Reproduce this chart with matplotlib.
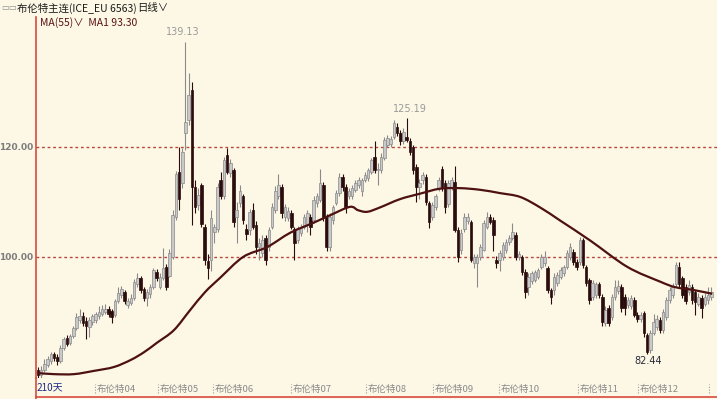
import matplotlib.pyplot as plt
import matplotlib.transforms as mtransforms
from matplotlib.lines import Line2D
from matplotlib.path import Path
from matplotlib.patches import PathPatch

plt.rcParams['font.family'] = ['Noto Sans CJK SC', 'DejaVu Sans']

# 日K线 (开, 收, 高, 低)
opens = [79.5, 78.5, 79.5, 80.3, 81.0, 82.3, 81.8, 81.0, 83.5, 85.2,
         84.3, 85.6, 87.0, 88.6, 89.3, 88.3, 87.3, 88.2, 88.5, 89.2,
         89.6, 90.0, 90.6, 90.2, 89.4, 92.0, 93.0, 93.6, 91.3, 91.6,
         92.5, 95.0, 96.2, 94.2, 92.6, 93.2, 94.6, 97.2, 94.6, 96.2,
         98.2, 96.6, 100.0, 107.2, 115.5, 113.5, 122.5, 124.9, 130.4, 112.7,
         109.5, 113.0, 105.5, 99.2, 99.5, 104.5, 105.0, 114.0, 111.0, 118.5,
         115.3, 115.8, 107.3, 109.8, 111.0, 105.0, 104.9, 108.5, 105.8, 101.8,
         100.7, 103.5, 101.8, 105.5, 108.5, 111.0, 112.7, 107.3, 107.0, 108.0,
         105.0, 103.0, 104.4, 105.5, 106.0, 107.3, 106.7, 109.8, 110.4, 113.0,
         107.3, 101.8, 106.7, 109.8, 111.6, 114.5, 112.7, 111.0, 111.0, 112.2,
         113.0, 112.0, 114.0, 114.3, 115.5, 118.2, 115.8, 115.8, 118.0, 120.4,
         120.6, 121.8, 123.6, 122.5, 121.0, 121.8, 121.0, 120.0, 116.4, 112.7,
         114.0, 114.5, 109.8, 107.3, 109.0, 112.5, 116.0, 113.5, 109.6, 112.7,
         113.6, 104.9, 101.3, 105.0, 106.5, 106.4, 98.9, 98.9, 100.0, 101.3,
         105.5, 107.3, 106.7, 99.5, 99.5, 100.0, 101.3, 102.7, 103.5, 104.0,
         100.0, 100.0, 97.3, 94.5, 95.6, 95.8, 96.4, 98.2, 98.9, 98.0,
         94.0, 94.0, 95.3, 96.4, 97.0, 98.2, 100.0, 100.9, 99.1, 99.0,
         103.0, 98.2, 95.8, 92.7, 93.0, 95.0, 92.7, 88.0, 90.7, 89.0,
         92.7, 93.8, 94.5, 92.7, 91.3, 91.0, 92.2, 89.5, 88.8, 89.8,
         85.8, 83.0, 86.2, 87.3, 88.5, 86.7, 89.0, 92.2, 93.0, 95.0,
         98.2, 96.2, 94.5, 93.6, 94.5, 93.6, 91.5, 92.5, 91.5, 92.2,
         92.7]
closes = [78.5, 79.5, 80.5, 81.5, 82.3, 81.6, 81.0, 83.5, 85.0, 84.2,
          85.6, 87.0, 89.0, 89.2, 88.0, 87.5, 88.6, 89.2, 89.6, 90.0,
          90.6, 90.6, 89.6, 89.0, 92.0, 93.5, 94.2, 92.0, 92.0, 92.6,
          95.5, 96.2, 94.0, 92.6, 93.6, 94.6, 97.6, 96.2, 96.4, 98.0,
          94.6, 100.8, 107.6, 115.0, 110.5, 119.0, 124.5, 129.5, 112.7, 109.0,
          111.2, 106.0, 99.5, 98.0, 107.0, 105.5, 112.7, 111.0, 117.6, 115.5,
          117.0, 106.4, 108.5, 112.0, 106.8, 104.2, 108.2, 105.5, 101.8, 102.5,
          103.0, 99.5, 104.9, 109.0, 112.0, 113.0, 108.0, 109.0, 108.3, 105.5,
          102.5, 105.0, 105.5, 107.3, 108.0, 105.5, 110.4, 111.0, 113.5, 107.3,
          101.8, 107.3, 109.0, 111.6, 114.5, 112.7, 109.0, 112.0, 112.5, 113.5,
          114.0, 114.0, 114.8, 115.8, 117.6, 115.8, 116.0, 118.2, 121.3, 121.6,
          121.4, 124.4, 122.5, 121.0, 122.7, 121.3, 119.0, 115.8, 112.7, 113.5,
          114.8, 110.0, 106.4, 109.5, 111.0, 114.0, 112.7, 109.0, 113.5, 114.0,
          104.9, 100.0, 104.4, 107.3, 107.3, 99.5, 100.0, 100.0, 101.8, 106.2,
          107.3, 106.4, 104.0, 98.9, 100.7, 102.2, 102.7, 103.5, 104.5, 100.0,
          100.5, 97.3, 93.6, 96.4, 97.0, 97.2, 97.6, 100.0, 100.0, 94.0,
          92.7, 96.4, 96.7, 97.6, 98.2, 100.7, 101.8, 99.0, 98.2, 103.0,
          98.5, 95.3, 92.2, 95.3, 95.0, 93.0, 88.2, 90.4, 88.0, 92.7,
          94.5, 94.7, 90.7, 90.7, 92.2, 92.5, 89.5, 88.8, 89.5, 86.2,
          82.7, 86.2, 88.2, 88.7, 86.7, 90.0, 92.2, 94.0, 94.5, 98.5,
          95.0, 93.0, 92.0, 94.9, 92.2, 91.8, 92.7, 90.7, 92.7, 93.0,
          93.6]
highs = [80.0, 80.2, 81.5, 82.0, 82.8, 82.8, 82.3, 84.0, 85.5, 85.8,
         86.0, 87.5, 89.8, 90.5, 90.0, 89.0, 89.0, 89.6, 90.0, 91.0,
         91.2, 91.5, 91.0, 90.6, 92.4, 94.6, 94.8, 94.0, 92.5, 93.2,
         96.0, 97.0, 96.6, 94.6, 94.2, 95.0, 98.0, 97.8, 97.0, 101.6,
         98.8, 101.4, 108.5, 115.6, 120.0, 119.8, 139.13, 133.5, 131.8, 114.0,
         112.5, 113.5, 106.0, 100.5, 108.5, 106.0, 113.5, 115.5, 118.2, 119.8,
         117.8, 116.2, 110.0, 113.0, 111.5, 106.0, 108.8, 109.8, 106.5, 103.5,
         104.0, 104.0, 105.5, 109.8, 112.8, 115.0, 113.2, 109.6, 109.0, 108.6,
         105.5, 105.6, 106.0, 107.8, 108.6, 107.8, 111.0, 111.6, 116.0, 113.6,
         107.8, 108.0, 109.5, 112.2, 115.2, 115.0, 113.2, 112.6, 113.0, 114.0,
         114.6, 114.4, 115.4, 116.2, 118.0, 121.0, 117.0, 118.8, 121.8, 122.2,
         122.0, 124.8, 124.4, 123.0, 123.4, 125.19, 121.6, 120.4, 116.8, 114.2,
         115.4, 115.0, 110.2, 110.0, 111.5, 114.6, 116.5, 114.0, 114.0, 114.5,
         116.5, 105.4, 105.0, 108.0, 108.0, 106.8, 100.5, 100.6, 102.4, 106.8,
         108.2, 107.8, 107.2, 100.2, 101.2, 102.8, 103.2, 104.0, 106.2, 104.5,
         101.0, 100.4, 97.8, 97.0, 97.5, 97.6, 98.0, 100.6, 101.0, 98.4,
         94.4, 97.0, 97.2, 98.2, 98.6, 101.2, 102.5, 101.4, 99.6, 103.6,
         103.5, 98.6, 96.2, 95.8, 95.5, 95.5, 93.2, 91.0, 91.2, 93.2,
         95.8, 95.8, 95.0, 93.2, 92.8, 93.0, 92.7, 90.0, 90.0, 90.2,
         86.2, 86.8, 89.6, 89.4, 89.0, 90.6, 92.8, 94.6, 95.2, 99.0,
         99.0, 96.6, 95.0, 95.8, 95.0, 94.0, 93.4, 93.0, 93.5, 94.5,
         94.5]
lows = [77.8, 78.0, 79.0, 80.0, 80.5, 81.0, 80.3, 80.8, 83.0, 83.8,
        84.0, 85.2, 86.8, 88.0, 87.5, 85.0, 85.5, 87.6, 88.0, 88.8,
        89.2, 89.6, 89.0, 88.0, 89.0, 91.6, 92.5, 91.5, 90.8, 91.2,
        92.2, 94.6, 93.5, 92.0, 91.0, 92.6, 94.2, 95.6, 94.2, 95.8,
        94.0, 96.4, 99.6, 106.8, 108.5, 112.5, 119.5, 124.0, 105.8, 108.0,
        108.5, 105.5, 98.5, 96.0, 97.5, 102.5, 104.5, 110.5, 110.5, 115.0,
        114.5, 105.5, 102.5, 109.0, 106.0, 103.0, 104.0, 105.0, 100.5, 99.5,
        100.0, 98.5, 101.0, 105.0, 108.0, 110.5, 107.0, 106.5, 106.5, 105.0,
        99.5, 102.5, 103.8, 105.0, 104.5, 104.0, 106.2, 109.0, 110.0, 106.5,
        101.0, 101.0, 106.0, 109.4, 111.0, 112.0, 108.0, 110.5, 110.5, 111.8,
        112.6, 111.0, 113.6, 113.8, 115.0, 115.2, 113.0, 115.2, 117.6, 120.0,
        120.0, 121.4, 122.0, 120.4, 120.6, 120.8, 118.5, 115.0, 110.0, 110.5,
        113.2, 109.5, 105.3, 106.8, 108.5, 112.0, 112.0, 108.0, 109.0, 112.2,
        104.5, 99.0, 100.6, 104.5, 106.0, 99.0, 98.0, 94.5, 99.5, 101.0,
        105.0, 106.0, 101.0, 98.0, 97.5, 99.5, 100.8, 102.2, 103.0, 99.5,
        99.5, 96.8, 92.6, 93.0, 95.0, 95.4, 96.0, 97.8, 98.4, 93.5,
        91.5, 93.0, 94.8, 96.0, 96.5, 97.8, 99.5, 98.5, 97.6, 98.5,
        98.0, 94.8, 91.5, 92.2, 92.5, 92.5, 87.5, 87.5, 87.5, 88.5,
        92.2, 93.2, 90.0, 89.5, 90.8, 90.5, 89.0, 88.2, 88.2, 85.5,
        82.44, 82.6, 85.8, 86.8, 86.2, 86.2, 88.5, 91.6, 92.5, 94.6,
        94.5, 92.5, 91.5, 93.0, 91.5, 89.5, 91.0, 88.9, 91.0, 91.5,
        92.2]

# MA(55) 曲线上的读数 (K线序号, 数值)
ma_days = [0, 5.0, 11.2, 17.5, 23.7, 29.0, 33.1, 37.1, 42.4, 47.4,
           52.1, 56.8, 64.0, 71.5, 78.7, 85.9, 91.2, 97.3, 99.8, 102.7,
           106.7, 112.9, 119.2, 125.4, 131.6, 137.9, 144.1, 150.4, 156.6, 162.9,
           172.2, 183.8, 194.1, 198.8, 204.4, 210.3]
ma_vals = [78.9, 78.7, 78.7, 79.3, 80.0, 81.3, 82.7, 84.4, 86.7, 90.3,
           93.6, 96.2, 100.0, 101.8, 104.4, 106.2, 107.6, 109.1, 108.5, 108.2,
           109.0, 110.5, 111.5, 112.4, 112.5, 112.2, 111.6, 110.9, 109.0, 106.6,
           103.0, 98.2, 95.5, 94.5, 94.0, 93.3]

month_pos = [17.8, 37.4, 54.6, 78.9, 102.3, 123.2, 143.8, 168.5, 187.2, 209.4]
month_labels = ['布伦特04', '布伦特05', '布伦特06', '布伦特07', '布伦特08',
                '布伦特09', '布伦特10', '布伦特11', '布伦特12', '']
grid_levels = [100, 120]

bg = '#fdf8e6'
red = '#d64b3f'
up_fill, up_edge = '#c9c9c9', '#8a8a8a'
dn_col = '#2b0c0c'
ma_col = '#4d1111'

W, H = 717, 399
fig = plt.figure(figsize=(W / 100, H / 100), dpi=100, facecolor=bg)
ax = fig.add_axes([36 / W, 1 - 378 / H, (W - 36) / W, (378 - 17) / H])
ax.set_facecolor(bg)

n = len(opens)
for i in range(n):
    o, c, h, l = opens[i], closes[i], highs[i], lows[i]
    up = c >= o
    col = up_edge if up else dn_col
    ax.vlines(i, l, h, color=col, lw=0.8, zorder=2)
    ax.bar(i, max(abs(c - o), 0.15), bottom=min(o, c), width=0.8,
           color=up_fill if up else dn_col, edgecolor=col, lw=0.5, zorder=3)

# 均线: 经过读数点的平滑曲线 (三次贝塞尔)
verts = [(ma_days[0], ma_vals[0])]
codes = [Path.MOVETO]
pts = list(zip(ma_days, ma_vals))
for k in range(len(pts) - 1):
    p0 = pts[max(k - 1, 0)]
    p1, p2 = pts[k], pts[k + 1]
    p3 = pts[min(k + 2, len(pts) - 1)]
    c1 = (p1[0] + (p2[0] - p0[0]) / 6, p1[1] + (p2[1] - p0[1]) / 6)
    c2 = (p2[0] - (p3[0] - p1[0]) / 6, p2[1] - (p3[1] - p1[1]) / 6)
    verts += [c1, c2, p2]
    codes += [Path.CURVE4] * 3
ax.add_patch(PathPatch(Path(verts, codes), facecolor='none', edgecolor=ma_col,
                       lw=1.6, zorder=4))

for g in grid_levels:
    ax.axhline(g, color='#b8473d', lw=1, ls=(0, (2, 2)), zorder=1)

ax.set_xlim(-0.62, 211.8)
ax.set_ylim(78.0, 143.6)
ax.set_yticks(grid_levels)
ax.set_yticklabels(['%.2f' % g for g in grid_levels])
ax.tick_params(axis='y', length=0, pad=2, labelsize=6.5, labelcolor='#7d7d7d')
for t in ax.get_yticklabels():
    t.set_fontweight('bold')
    t.set_family('DejaVu Sans')
ax.set_xticks([])
for s in ['top', 'right', 'bottom']:
    ax.spines[s].set_visible(False)
ax.spines['left'].set_color(red)
ax.spines['left'].set_linewidth(1.2)

# 高低点标注
ax.annotate('139.13', (46, 139.13), xytext=(-2, 3), textcoords='offset points',
            ha='center', va='bottom', fontsize=7, color='#9a9a9a', family='DejaVu Sans')
ax.annotate('125.19', (116, 125.19), xytext=(0, 3), textcoords='offset points',
            ha='center', va='bottom', fontsize=7, color='#9a9a9a', family='DejaVu Sans')
ax.annotate('82.44', (190, 82.44), xytext=(1, -2), textcoords='offset points',
            ha='center', va='top', fontsize=7, color='#2a2a3a', family='DejaVu Sans')

# 月份标签
tr = mtransforms.blended_transform_factory(ax.transData, fig.transFigure)
for p, lab in zip(month_pos, month_labels):
    ax.add_line(Line2D([p, p], [1 - 393 / H, 1 - 384 / H], transform=tr,
                       color='#9a9a9a', lw=0.8, ls=(0, (1, 1.5)), clip_on=False))
    if lab:
        fig.text(p + 0.6, 1 - 389 / H, lab, transform=tr, fontsize=6.8,
                 color='#8a8a8a', va='center', ha='left')

fig.text(37 / W, 1 - 387 / H, '210天', fontsize=7.2, color='#1d2d86', va='center')

# 边框线
fig.add_artist(Line2D([36 / W, 36 / W], [0, 1 - 378 / H], color=red, lw=1.2))
fig.add_artist(Line2D([36 / W, 1], [1 - 396.5 / H] * 2, color=red, lw=1.2))

# 标题栏
fig.text(1 / W, 1 - 8 / H, '▭▭', fontsize=6, color='#8a8a8a', va='center',
         family='DejaVu Sans')
fig.text(17 / W, 1 - 8 / H, '布伦特主连(ICE_EU 6563)', fontsize=7.5, color='#1a1a1a',
         va='center')
fig.text(137 / W, 1 - 8 / H, '日线∨', fontsize=7.5, color='#1a1a1a', va='center')
fig.text(40 / W, 1 - 23 / H, 'MA(55)∨  MA1 93.30', fontsize=7.5, color='#5a1414',
         va='center')

fig.savefig('out.png', dpi=100, facecolor=bg)
